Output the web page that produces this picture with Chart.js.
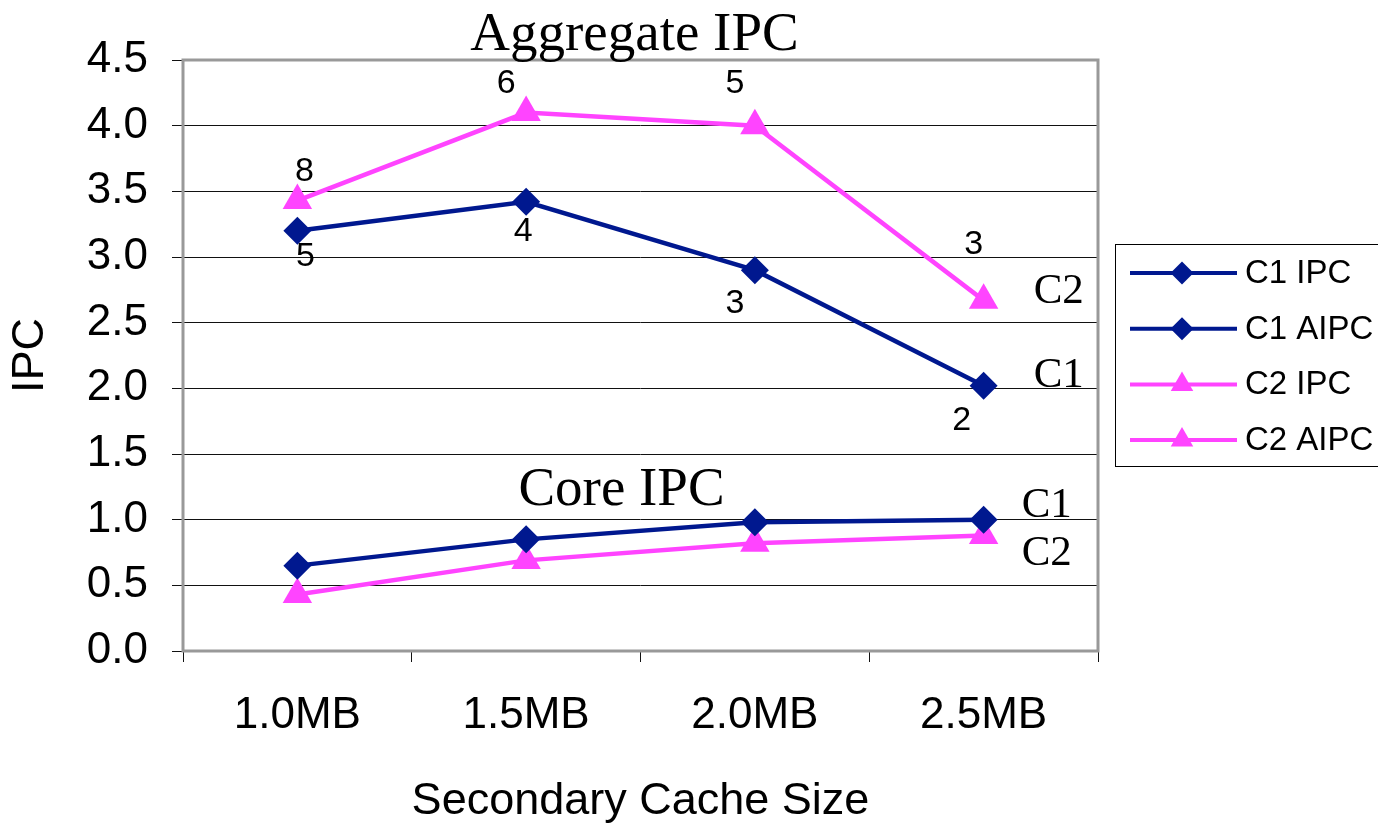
<!DOCTYPE html>
<html>
<head>
<meta charset="utf-8">
<script src="https://cdn.jsdelivr.net/npm/chart.js@4/dist/chart.umd.min.js"></script>
<style>
    html, body { margin: 0; padding: 0; background: #fff; }
    #wrap { width: 1378px; height: 829px; }
</style>
</head>
<body>
<div id="wrap"><canvas id="chart" width="1378" height="829"></canvas></div>
<script>
// Data
const cacheSizes = ['1.0MB', '1.5MB', '2.0MB', '2.5MB'];
const c1Ipc = [0.65, 0.85, 0.98, 1.00];
const c1Aipc = [3.20, 3.42, 2.90, 2.02];
const c2Ipc = [0.43, 0.69, 0.82, 0.88];
const c2Aipc = [3.43, 4.10, 4.00, 2.67];
// numbers printed next to the aggregate points
const c1AipcLabels = ['5', '4', '3', '2'];
const c2AipcLabels = ['8', '6', '5', '3'];
const yTicks = [0, 0.5, 1.0, 1.5, 2.0, 2.5, 3.0, 3.5, 4.0, 4.5];

const NAVY = '#00188f';
const MAGENTA = '#ff44ff';
const SANS = '"Liberation Sans", Arial, sans-serif';
const SERIF = '"Liberation Serif", "Times New Roman", serif';

function series(label, data, color, style, radius) {
    return {
        label: label,
        data: data,
        borderColor: color,
        backgroundColor: color,
        borderWidth: 4.5,
        pointStyle: style,
        pointRadius: radius,
        pointHoverRadius: radius,
        pointBorderWidth: 0,
        tension: 0
    };
}

// Plot frame, point labels, annotations and the boxed legend
const decorations = {
    id: 'decorations',
    beforeDatasetsDraw(chart) {
        const { ctx, chartArea: a } = chart;
        ctx.save();
        ctx.strokeStyle = '#999';
        ctx.lineWidth = 3;
        ctx.strokeRect(a.left, a.top, a.right - a.left, a.bottom - a.top);
        ctx.restore();
    },
    afterDatasetsDraw(chart) {
        const { ctx, chartArea: a } = chart;
        const pts = i => chart.getDatasetMeta(i).data;
        ctx.save();
        ctx.fillStyle = '#000';
        ctx.textAlign = 'center';
        ctx.textBaseline = 'middle';

        // counts above / below the aggregate IPC points
        ctx.font = '34px ' + SANS;
        const above = [[7, -29], [-20, -29], [-20, -42], [-10, -56]];
        const below = [[8, 26], [-3, 30], [-20, 33], [-22, 35]];
        pts(3).forEach((p, i) => ctx.fillText(c2AipcLabels[i], p.x + above[i][0], p.y + above[i][1]));
        pts(1).forEach((p, i) => ctx.fillText(c1AipcLabels[i], p.x + below[i][0], p.y + below[i][1]));

        // group titles
        ctx.textBaseline = 'alphabetic';
        ctx.font = '55px ' + SERIF;
        ctx.fillText('Aggregate IPC', (a.left + a.right) / 2 - 6, a.top - 10);
        ctx.fillText('Core IPC', (a.left + a.right) / 2 - 19, 505);

        // series tags at the line ends
        ctx.textAlign = 'left';
        ctx.font = '43px ' + SERIF;
        const last = i => pts(i)[pts(i).length - 1];
        ctx.fillText('C2', last(3).x + 50, last(3).y + 3);
        ctx.fillText('C1', last(1).x + 50, last(1).y + 1);
        ctx.fillText('C1', last(0).x + 38, last(0).y - 3);
        ctx.fillText('C2', last(2).x + 38, last(2).y + 30);

        // legend box
        ctx.strokeStyle = '#000';
        ctx.lineWidth = 1;
        ctx.strokeRect(1115.5, 244.5, 275, 222);
        ctx.font = '33px ' + SANS;
        ctx.textBaseline = 'middle';
        chart.data.datasets.forEach((ds, i) => {
            const y = 273 + i * 55.7;
            ctx.strokeStyle = ds.borderColor;
            ctx.lineWidth = 4;
            ctx.beginPath();
            ctx.moveTo(1130, y);
            ctx.lineTo(1237, y);
            ctx.stroke();
            ctx.fillStyle = ds.backgroundColor;
            Chart.helpers.drawPoint(ctx, {
                pointStyle: ds.pointStyle,
                radius: ds.pointStyle === 'triangle' ? 13 : 11.5,
                borderWidth: 0,
                rotation: 0
            }, 1182, y);
            ctx.fillStyle = '#000';
            ctx.fillText(ds.label, 1245, y + 1);
        });
        ctx.restore();
    }
};

new Chart(document.getElementById('chart'), {
    type: 'line',
    data: {
        labels: cacheSizes,
        datasets: [
            series('C1 IPC', c1Ipc, NAVY, 'rectRot', 14),
            series('C1 AIPC', c1Aipc, NAVY, 'rectRot', 14),
            series('C2 IPC', c2Ipc, MAGENTA, 'triangle', 17),
            series('C2 AIPC', c2Aipc, MAGENTA, 'triangle', 17)
        ]
    },
    options: {
        responsive: false,
        animation: false,
        layout: { padding: { top: 60, right: 280, left: 0, bottom: 0 } },
        plugins: {
            legend: { display: false },
            tooltip: { enabled: false }
        },
        scales: {
            x: {
                offset: true,
                grid: { drawOnChartArea: false, drawTicks: true, tickLength: 11, color: '#111', offset: true },
                border: { display: false },
                ticks: { color: '#000', font: { family: SANS, size: 44 }, padding: 27, maxRotation: 0 },
                title: { display: true, text: 'Secondary Cache Size', color: '#000', font: { family: SANS, size: 45 }, padding: { top: 4, bottom: 0 } },
                afterFit(scale) { scale.height = 178; }
            },
            y: {
                min: 0,
                max: 4.5,
                afterBuildTicks(scale) { scale.ticks = yTicks.map(v => ({ value: v })); },
                grid: { color: '#111', lineWidth: 1, tickLength: 11 },
                border: { display: false },
                ticks: { color: '#000', font: { family: SANS, size: 44 }, padding: 24, callback: v => Number(v).toFixed(1) },
                title: { display: true, text: 'IPC', color: '#000', font: { family: SANS, size: 45 }, padding: { top: 4, bottom: 4 } },
                afterFit(scale) { scale.width = 183; }
            }
        }
    },
    plugins: [decorations]
});
</script>
</body>
</html>
